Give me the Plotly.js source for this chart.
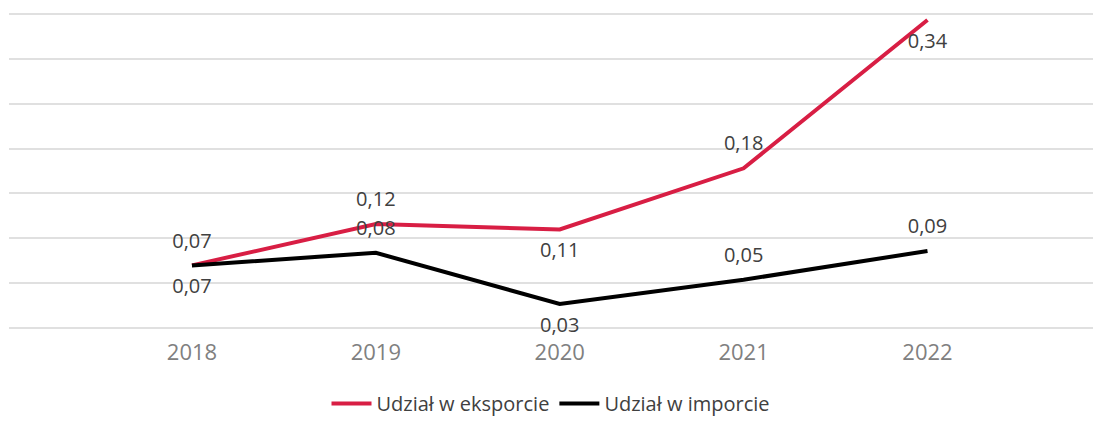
<!DOCTYPE html>
<html>
<head>
<meta charset="utf-8">
<script src="https://cdn.plot.ly/plotly-3.0.1.min.js"></script>
<style>html,body{margin:0;padding:0;background:#fff;}</style>
</head>
<body>
<div id="chart" style="width:1093px;height:423px;"></div>
<script>
const years = ['2018', '2019', '2020', '2021', '2022'];
const exportShare = [0.070, 0.116, 0.110, 0.178, 0.343];
const importShare = [0.070, 0.084, 0.027, 0.054, 0.086];
const exportLabels = ['0,07', '0,12', '0,11', '0,18', '0,34'];
const importLabels = ['0,07', '0,08', '0,03', '0,05', '0,09'];
const exportPos = ['top center', 'top center', 'bottom center', 'top center', 'bottom center'];
const importPos = ['bottom center', 'top center', 'bottom center', 'top center', 'top center'];
const seriesNames = ['Udział w eksporcie', 'Udział w imporcie'];
const seriesColors = ['#d81e44', '#000000'];

const FONT = 'Open Sans, Noto Sans, sans-serif';
const LABEL_FONT = {family: FONT, size: 20, color: '#404040'};

function lineTrace(y, i) {
  return {
    x: years, y: y, name: seriesNames[i], type: 'scatter', mode: 'lines',
    line: {color: seriesColors[i], width: 4},
    hoverinfo: 'skip', cliponaxis: false
  };
}
function labelTrace(y, labels, pos, i) {
  return {
    x: years, y: y, type: 'scatter', mode: 'markers+text', showlegend: false,
    text: labels, textposition: pos,
    marker: {size: 19, opacity: 0, color: seriesColors[i]},
    textfont: LABEL_FONT, hoverinfo: 'skip', cliponaxis: false
  };
}

const traces = [
  lineTrace(exportShare, 0),
  lineTrace(importShare, 1),
  labelTrace(exportShare, exportLabels, exportPos, 0),
  labelTrace(importShare, importLabels, importPos, 1)
];

const layout = {
  width: 1093, height: 423,
  margin: {l: 9, r: 0, t: 11, b: 92, autoexpand: false},
  paper_bgcolor: '#ffffff', plot_bgcolor: '#ffffff',
  font: {family: FONT, color: '#404040'},
  showlegend: true,
  legend: {
    orientation: 'h', x: 0.5, xanchor: 'center', y: -0.2875, yanchor: 'bottom',
    font: {family: FONT, size: 20, color: '#404040'},
    itemwidth: 40, tracegroupgap: 0, borderwidth: 0
  },
  xaxis: {
    type: 'category', range: [-0.995, 4.9],
    showgrid: false, zeroline: false, showline: false, ticks: '',
    tickfont: {family: FONT, size: 22, color: '#808080'},
    ticklabelstandoff: 6,
    fixedrange: true
  },
  yaxis: {
    range: [-0.003, 0.353], dtick: 0.05, tick0: 0,
    showgrid: true, gridcolor: '#e0e0e0', gridwidth: 2,
    zeroline: false, showline: false, showticklabels: false, ticks: '',
    fixedrange: true
  }
};

Plotly.newPlot('chart', traces, layout, {displayModeBar: false, staticPlot: true});
</script>
</body>
</html>
